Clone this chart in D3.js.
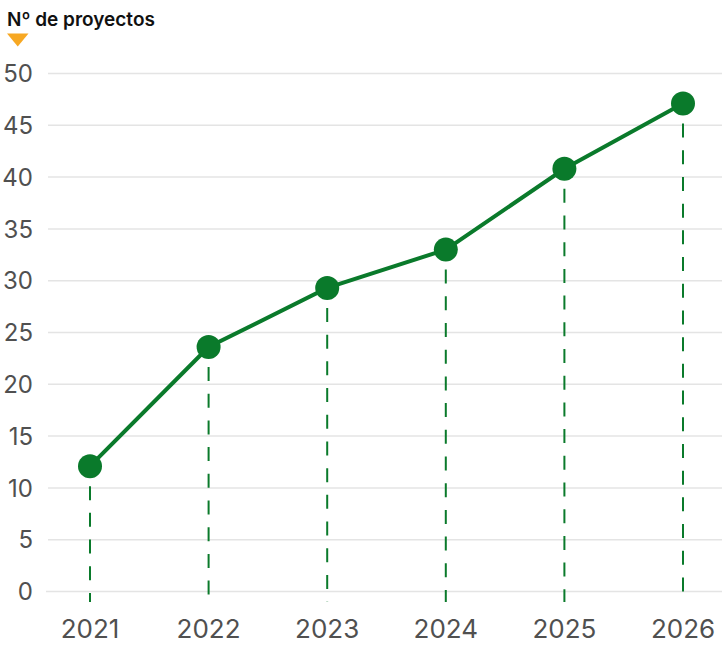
<!DOCTYPE html>
<html>
<head>
<meta charset="utf-8">
<script src="https://cdn.jsdelivr.net/npm/d3@7"></script>
<style>
  body { margin: 0; background: #fff; }
  svg { display: block; font-family: Inter, "Noto Sans", sans-serif; }
</style>
</head>
<body>
<div id="chart"></div>
<script>
// data
var years = ["2021", "2022", "2023", "2024", "2025", "2026"];
var projects = [12.1, 23.6, 29.3, 33.0, 40.8, 47.1];
var yTicks = [0, 5, 10, 15, 20, 25, 30, 35, 40, 45, 50];
var title = "Nº de proyectos";

var width = 722, height = 654;
var green = "#0a7a2b";

var svg = d3.select("#chart").append("svg")
  .attr("width", width)
  .attr("height", height);

var x = d3.scalePoint()
  .domain(years)
  .range([90, 683]);

var y = d3.scaleLinear()
  .domain([0, 50])
  .range([591.5, 73.5]);

// gridlines
svg.append("g")
  .selectAll("line")
  .data(yTicks)
  .join("line")
  .attr("x1", function(d) { return d === 0 ? 46 : 48; })
  .attr("x2", width)
  .attr("y1", function(d) { return y(d); })
  .attr("y2", function(d) { return y(d); })
  .attr("stroke", "#e4e4e4")
  .attr("stroke-width", 1.5);

// y labels
svg.append("g")
  .selectAll("text")
  .data(yTicks)
  .join("text")
  .attr("x", 33)
  .attr("y", function(d) { return y(d); })
  .attr("dy", "0.36em")
  .attr("text-anchor", "end")
  .attr("font-size", 24)
  .attr("fill", "#505050")
  .text(function(d) { return d; });

// x labels
svg.append("g")
  .selectAll("text")
  .data(years)
  .join("text")
  .attr("x", function(d) { return x(d); })
  .attr("y", 638)
  .attr("text-anchor", "middle")
  .attr("font-size", 26)
  .attr("fill", "#505050")
  .text(function(d) { return d; });

var pts = years.map(function(d, i) { return { year: d, value: projects[i] }; });

// dashed drop lines
svg.append("g")
  .selectAll("line")
  .data(pts)
  .join("line")
  .attr("x1", function(d) { return x(d.year); })
  .attr("x2", function(d) { return x(d.year); })
  .attr("y1", function(d) { return y(d.value) + 20; })
  .attr("y2", 602)
  .attr("stroke", green)
  .attr("stroke-width", 2)
  .attr("stroke-dasharray", "14,12.7");

// line
var line = d3.line()
  .x(function(d) { return x(d.year); })
  .y(function(d) { return y(d.value); });

svg.append("path")
  .datum(pts)
  .attr("d", line)
  .attr("fill", "none")
  .attr("stroke", green)
  .attr("stroke-width", 4);

// points
svg.append("g")
  .selectAll("circle")
  .data(pts)
  .join("circle")
  .attr("cx", function(d) { return x(d.year); })
  .attr("cy", function(d) { return y(d.value); })
  .attr("r", 12)
  .attr("fill", green);

// title + marker
svg.append("text")
  .attr("x", 7)
  .attr("y", 26)
  .attr("font-size", 19)
  .attr("font-weight", 600)
  .attr("fill", "#111")
  .text(title);

svg.append("path")
  .attr("d", "M7,33.5 L28.5,33.5 L17.75,46.5 Z")
  .attr("fill", "#f7a823");
</script>
</body>
</html>
